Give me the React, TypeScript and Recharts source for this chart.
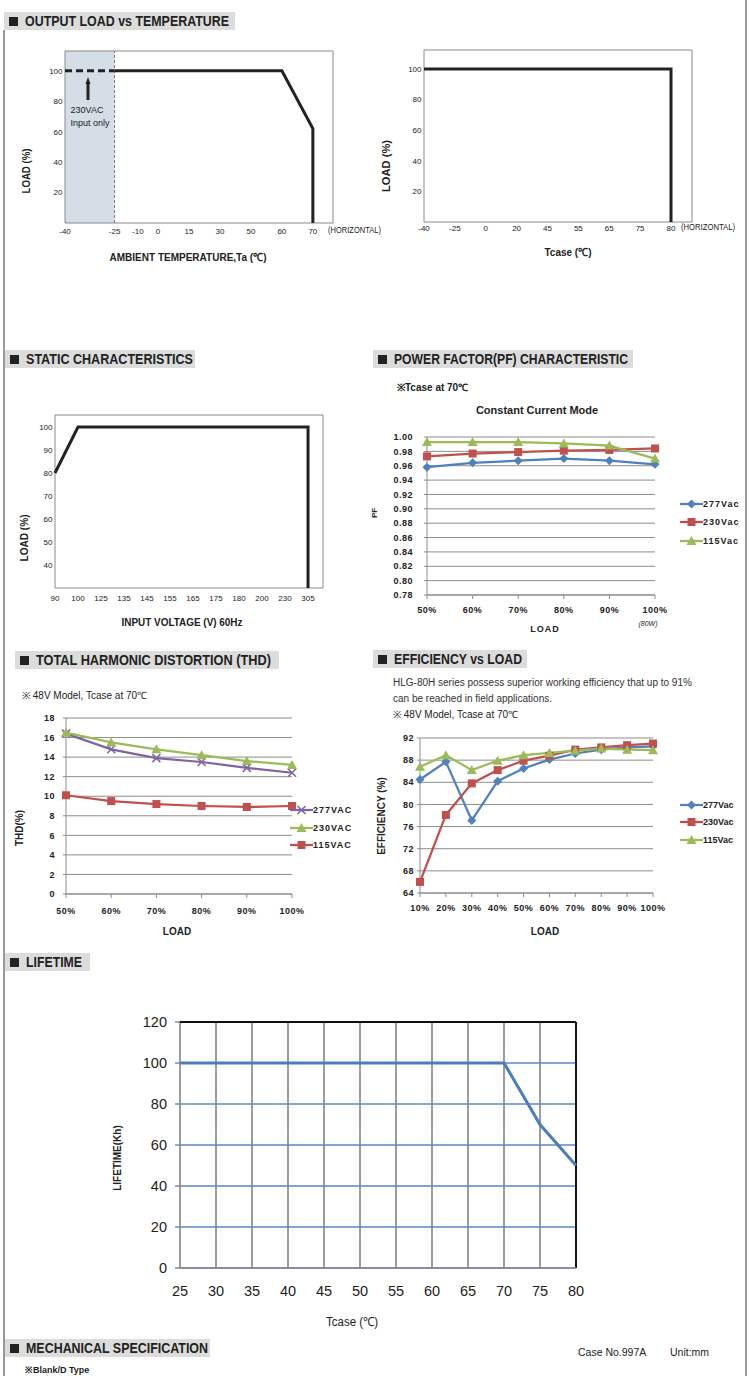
import React from "react";
import {
  LineChart,
  Line,
  XAxis,
  YAxis,
  CartesianGrid,
  ReferenceArea,
  ReferenceLine,
} from "recharts";

const SANS = "'Liberation Sans', Arial, Helvetica, sans-serif";
const INK = "#222";
const BLUE = "#4f81bd";
const RED = "#c0504d";
const GREEN = "#9bbb59";
const PURPLE = "#8064a2";
const GRID = "#8c8c8c";

// ---------- OUTPUT LOAD vs TEMPERATURE (ambient) ----------
const taTicks = [-40, -25, -10, 0, 15, 30, 50, 60, 70];
// the printed axis is not to scale: where each label sits, in label-widths
const taSlots = [0, 1.6, 2.35, 3, 4, 5, 6, 7, 8];
const taLoadT = [-25, 60, 70, 70];
const taLoadV = [100, 100, 62, 0];
const ta230T = [-40, -25];
const ta230V = [100, 100];
const loadTicks = [20, 40, 60, 80, 100];

// ---------- OUTPUT LOAD vs Tcase ----------
const tcTicks = [-40, -25, 0, 20, 45, 55, 65, 75, 80];
const tcSlots = [0, 1, 2, 3, 4, 5, 6, 7, 8];
const tcLoadT = [-40, 80, 80];
const tcLoadV = [100, 100, 0];

// ---------- STATIC CHARACTERISTICS ----------
const vinTicks = [90, 100, 125, 135, 145, 155, 165, 175, 180, 200, 230, 305];
const vinSlots = [0, 1, 2, 3, 4, 5, 6, 7, 8, 9, 10, 11];
const vinV = [90, 100, 305, 305];
const vinLoad = [80, 100, 100, 30];
const staticTicks = [40, 50, 60, 70, 80, 90, 100];

// ---------- POWER FACTOR ----------
const pfLoads = ["50%", "60%", "70%", "80%", "90%", "100%"];
const pf277 = [0.958, 0.964, 0.967, 0.97, 0.967, 0.962];
const pf230 = [0.973, 0.977, 0.979, 0.981, 0.982, 0.984];
const pf115 = [0.993, 0.993, 0.993, 0.991, 0.988, 0.97];
const pfTicks = [0.78, 0.8, 0.82, 0.84, 0.86, 0.88, 0.9, 0.92, 0.94, 0.96, 0.98, 1.0];
const pfNames = ["277Vac", "230Vac", "115Vac"];

// ---------- THD ----------
const thdLoads = ["50%", "60%", "70%", "80%", "90%", "100%"];
const thd277 = [16.4, 14.8, 13.9, 13.5, 12.9, 12.4];
const thd230 = [16.5, 15.5, 14.8, 14.2, 13.6, 13.2];
const thd115 = [10.1, 9.5, 9.2, 9.0, 8.9, 9.0];
const thdTicks = [0, 2, 4, 6, 8, 10, 12, 14, 16, 18];
const thdNames = ["277VAC", "230VAC", "115VAC"];

// ---------- EFFICIENCY ----------
const effLoads = ["10%", "20%", "30%", "40%", "50%", "60%", "70%", "80%", "90%", "100%"];
const eff277 = [84.5, 87.7, 77.1, 84.2, 86.5, 88.1, 89.2, 89.9, 90.3, 90.5];
const eff230 = [66.0, 78.1, 83.8, 86.2, 87.9, 88.8, 89.9, 90.3, 90.7, 91.0];
const eff115 = [86.8, 88.9, 86.2, 87.9, 88.9, 89.3, 89.7, 90.1, 89.9, 89.8];
const effTicks = [64, 68, 72, 76, 80, 84, 88, 92];
const effNames = ["277Vac", "230Vac", "115Vac"];

// ---------- LIFETIME ----------
const lifeTicks = [25, 30, 35, 40, 45, 50, 55, 60, 65, 70, 75, 80];
const lifeT = [25, 70, 75, 80];
const lifeKh = [100, 100, 70, 50];
const lifeYTicks = [0, 20, 40, 60, 80, 100, 120];

// ---------- helpers ----------
const slotOf = (ticks: number[], slots: number[], v: number) => {
  for (let i = 0; i < ticks.length - 1; i++) {
    if (v <= ticks[i + 1]) {
      return slots[i] + ((v - ticks[i]) / (ticks[i + 1] - ticks[i])) * (slots[i + 1] - slots[i]);
    }
  }
  return slots[slots.length - 1];
};
const toRows = (ticks: number[], slots: number[], xs: number[], ys: number[]) =>
  xs.map((x, i) => ({ s: slotOf(ticks, slots, x), y: ys[i] }));

type Box = { l: number; t: number; r: number; b: number; yw: number; xh: number };

function frame(p: Box) {
  const m = { top: 8, right: 16, bottom: 0, left: 0 };
  return {
    pos: { position: "absolute" as const, left: p.l - p.yw, top: p.t - m.top },
    width: p.yw + (p.r - p.l) + m.right,
    height: m.top + (p.b - p.t) + p.xh,
    margin: m,
  };
}

const tickSmall = { fontSize: 8, fill: INK, fontFamily: SANS };
const tickBold = { fontSize: 9, fill: INK, fontFamily: SANS, fontWeight: 700, letterSpacing: 0.5 };
const tickLife = { fontSize: 14.5, fill: INK, fontFamily: SANS };

function Marker({ cx, cy, shape, color }: { cx?: number; cy?: number; shape: string; color: string }) {
  if (cx == null || cy == null) return null;
  if (shape === "diamond")
    return <path d={`M${cx},${cy - 4.5}L${cx + 4.5},${cy}L${cx},${cy + 4.5}L${cx - 4.5},${cy}Z`} fill={color} />;
  if (shape === "square") return <rect x={cx - 4} y={cy - 4} width={8} height={8} fill={color} />;
  if (shape === "triangle")
    return <path d={`M${cx},${cy - 5}L${cx + 5},${cy + 4}L${cx - 5},${cy + 4}Z`} fill={color} />;
  return (
    <path
      d={`M${cx - 4},${cy - 4}L${cx + 4},${cy + 4}M${cx + 4},${cy - 4}L${cx - 4},${cy + 4}`}
      stroke={color}
      strokeWidth={1.6}
    />
  );
}

const dotFor = (shape: string, color: string) => (p: any) => (
  <g key={`${shape}-${p.index}`}>
    <Marker cx={p.cx} cy={p.cy} shape={shape} color={color} />
  </g>
);

function T({
  x, y, children, size = 10, weight = 400, family = SANS, align = "center", rotate = false, color = INK, style = {},
}: any) {
  const tx = align === "center" ? "-50%" : align === "right" ? "-100%" : "0";
  return (
    <div
      style={{
        position: "absolute",
        left: x,
        top: y,
        transform: `translate(${tx}, -50%)${rotate ? " rotate(-90deg)" : ""}`,
        fontFamily: family,
        fontSize: size,
        fontWeight: weight,
        color,
        whiteSpace: "nowrap",
        lineHeight: 1,
        ...style,
      }}
    >
      {children}
    </div>
  );
}

// condensed lettering: squeeze the text into the width it has on the sheet
function Fit({ x, y, w, size, weight = 700, align = "left", rotate = false, color = INK, children }: any) {
  const h = Math.ceil(size * 1.3);
  const tx = align === "center" ? "-50%" : align === "right" ? "-100%" : "0";
  return (
    <svg
      width={w + 2}
      height={h}
      style={{
        position: "absolute",
        left: x,
        top: y,
        overflow: "visible",
        transform: `translate(${tx}, -50%)${rotate ? " rotate(-90deg)" : ""}`,
      }}
    >
      <text
        x={align === "center" ? 1 : 0}
        y={size * 0.95}
        textLength={w}
        lengthAdjust="spacingAndGlyphs"
        fontSize={size}
        fontWeight={weight}
        fontFamily={SANS}
        fill={color}
      >
        {children}
      </text>
    </svg>
  );
}

function Banner({ x, y, w, tw, text }: { x: number; y: number; w: number; tw: number; text: string }) {
  return (
    <>
      <div style={{ position: "absolute", left: x, top: y, width: w, height: 18, background: "#dcdcdc" }}>
        <div style={{ position: "absolute", left: 5, top: 4.5, width: 9, height: 9, background: INK }} />
      </div>
      <Fit x={x + 21} y={y + 9.5} w={tw} size={15}>
        {text}
      </Fit>
    </>
  );
}

function LegendRow({ x, y, color, shape, text, spacing = 1 }: any) {
  return (
    <div style={{ position: "absolute", left: x, top: y - 6, height: 12, display: "flex", alignItems: "center" }}>
      <svg width={23} height={12}>
        <line x1={0} y1={6} x2={23} y2={6} stroke={color} strokeWidth={2.25} />
        <Marker cx={11.5} cy={6} shape={shape} color={color} />
      </svg>
      <span style={{ fontFamily: SANS, fontWeight: 700, fontSize: 9, letterSpacing: spacing, color: INK }}>{text}</span>
    </div>
  );
}

function FrameChart(props: {
  box: Box;
  xTicks: number[];
  slots: number[];
  xMax: number;
  yDomain: [number, number];
  yTicks: number[];
  xGap: number;
  lines: { rows: { s: number; y: number }[]; dash?: string }[];
  shade?: number;
}) {
  const f = frame(props.box);
  const [y0, y1] = props.yDomain;
  return (
    <div style={f.pos}>
      <LineChart width={f.width} height={f.height} margin={f.margin}>
        {props.shade !== undefined && (
          <ReferenceArea x1={0} x2={props.shade} y1={y0} y2={y1} fill="#d5dde6" fillOpacity={1} stroke="none" />
        )}
        {props.shade !== undefined && <ReferenceLine x={props.shade} stroke="#777" strokeDasharray="3 2" />}
        <ReferenceArea x1={0} x2={props.xMax} y1={y0} y2={y1} fill="none" stroke="#8a8a8a" />
        <XAxis
          type="number"
          dataKey="s"
          domain={[0, props.xMax]}
          ticks={props.slots}
          interval={0}
          tickFormatter={(s: number) => String(props.xTicks[props.slots.indexOf(s)])}
          axisLine={false}
          tickLine={false}
          tickSize={0}
          tickMargin={props.xGap}
          height={props.box.xh}
          tick={tickSmall}
        />
        <YAxis
          domain={props.yDomain}
          ticks={props.yTicks}
          interval={0}
          axisLine={false}
          tickLine={false}
          tickSize={0}
          tickMargin={2.5}
          width={props.box.yw}
          tick={tickSmall}
        />
        <YAxis
          yAxisId="r"
          orientation="right"
          mirror
          domain={props.yDomain}
          ticks={props.yTicks}
          tick={false}
          tickSize={4}
          axisLine={false}
          tickLine={{ stroke: "#777" }}
        />
        {props.lines.map((ln, i) => (
          <Line
            key={i}
            data={ln.rows}
            dataKey="y"
            stroke={INK}
            strokeWidth={3}
            strokeDasharray={ln.dash}
            dot={false}
            isAnimationActive={false}
          />
        ))}
      </LineChart>
    </div>
  );
}

function ExcelChart(props: {
  box: Box;
  cats: string[];
  series: { values: number[]; color: string; shape: string }[];
  yDomain: [number, number];
  yTicks: number[];
  fmt?: (v: number) => string;
  xGap: number;
  yGap: number;
}) {
  const f = frame(props.box);
  const rows = props.cats.map((load, i) => {
    const row: any = { load };
    props.series.forEach((s, k) => (row[`s${k}`] = s.values[i]));
    return row;
  });
  return (
    <div style={f.pos}>
      <LineChart width={f.width} height={f.height} margin={f.margin} data={rows}>
        <CartesianGrid vertical={false} stroke={GRID} />
        <XAxis
          dataKey="load"
          interval={0}
          tick={tickBold}
          tickSize={4}
          tickMargin={props.xGap}
          axisLine={{ stroke: GRID }}
          tickLine={{ stroke: GRID }}
          height={props.box.xh}
        />
        <YAxis
          domain={props.yDomain}
          ticks={props.yTicks}
          interval={0}
          tickFormatter={props.fmt}
          tick={tickBold}
          tickSize={3}
          tickMargin={props.yGap}
          axisLine={{ stroke: GRID }}
          tickLine={{ stroke: GRID }}
          width={props.box.yw}
        />
        {props.series.map((s, k) => (
          <Line
            key={k}
            dataKey={`s${k}`}
            stroke={s.color}
            strokeWidth={2.25}
            dot={dotFor(s.shape, s.color)}
            isAnimationActive={false}
          />
        ))}
      </LineChart>
    </div>
  );
}

function LifetimeChart() {
  const box: Box = { l: 180, t: 1022, r: 576, b: 1268, yw: 50, xh: 40 };
  const f = frame(box);
  const rows = lifeT.map((t, i) => ({ t, kh: lifeKh[i] }));
  return (
    <div style={f.pos}>
      <LineChart width={f.width} height={f.height} margin={f.margin} data={rows}>
        <CartesianGrid horizontal={false} stroke="#858585" strokeWidth={1.6} />
        <CartesianGrid vertical={false} stroke="#5b87c2" strokeWidth={1.6} />
        <XAxis
          type="number"
          dataKey="t"
          domain={[25, 80]}
          ticks={lifeTicks}
          interval={0}
          tick={tickLife}
          tickSize={0}
          tickMargin={18}
          axisLine={{ stroke: "#888", strokeWidth: 1.6 }}
          tickLine={false}
          height={box.xh}
        />
        <YAxis
          domain={[0, 120]}
          ticks={lifeYTicks}
          interval={0}
          tick={tickLife}
          tickSize={5}
          tickMargin={8}
          axisLine={false}
          tickLine={{ stroke: "#888", strokeWidth: 1.5 }}
          width={box.yw}
        />
        <ReferenceLine y={120} stroke="#111" strokeWidth={2} />
        <ReferenceLine x={80} stroke="#111" strokeWidth={2} />
        <Line dataKey="kh" stroke="#4a7ebb" strokeWidth={3} dot={false} isAnimationActive={false} />
      </LineChart>
    </div>
  );
}

export default function App() {
  const pfSeries = [
    { values: pf277, color: BLUE, shape: "diamond" },
    { values: pf230, color: RED, shape: "square" },
    { values: pf115, color: GREEN, shape: "triangle" },
  ];
  const thdSeries = [
    { values: thd277, color: PURPLE, shape: "x" },
    { values: thd230, color: GREEN, shape: "triangle" },
    { values: thd115, color: RED, shape: "square" },
  ];
  const effSeries = [
    { values: eff277, color: BLUE, shape: "diamond" },
    { values: eff230, color: RED, shape: "square" },
    { values: eff115, color: GREEN, shape: "triangle" },
  ];

  return (
    <div
      style={{
        position: "absolute",
        left: 0,
        top: 0,
        width: 750,
        height: 1376,
        overflow: "hidden",
        background: "#fff",
        fontFamily: SANS,
      }}
    >
      {/* page borders */}
      <div style={{ position: "absolute", left: 3, top: 30, width: 1.5, height: 1346, background: "#9a9a9a" }} />
      <div style={{ position: "absolute", left: 745, top: 0, width: 1.5, height: 1376, background: "#9a9a9a" }} />

      {/* ===== OUTPUT LOAD vs TEMPERATURE ===== */}
      <Banner x={4} y={12} w={231} tw={204} text="OUTPUT LOAD vs TEMPERATURE" />
      <FrameChart
        box={{ l: 65, t: 51, r: 333, b: 223, yw: 30, xh: 22 }}
        xTicks={taTicks}
        slots={taSlots}
        xMax={8.65}
        yDomain={[0, 113]}
        yTicks={loadTicks}
        xGap={5}
        shade={slotOf(taTicks, taSlots, -25)}
        lines={[
          { rows: toRows(taTicks, taSlots, ta230T, ta230V), dash: "7 4" },
          { rows: toRows(taTicks, taSlots, taLoadT, taLoadV) },
        ]}
      />
      <svg style={{ position: "absolute", left: 83, top: 77 }} width={10} height={26}>
        <path d="M5,5 L5,23" stroke={INK} strokeWidth={3} />
        <path d="M5,0 L7.5,7 L2.5,7 Z" fill={INK} />
      </svg>
      <T x={87} y={110} size={9}>230VAC</T>
      <T x={90} y={123} size={9}>Input only</T>
      <Fit x={27} y={171} w={45} size={11} align="center" rotate>LOAD (%)</Fit>
      <Fit x={188} y={258} w={157} size={11} align="center">AMBIENT TEMPERATURE,Ta (℃)</Fit>
      <Fit x={328} y={231} w={53} size={8.5} weight={400}>(HORIZONTAL)</Fit>

      {/* ===== Tcase ===== */}
      <FrameChart
        box={{ l: 424, t: 50, r: 692, b: 222, yw: 30, xh: 22 }}
        xTicks={tcTicks}
        slots={tcSlots}
        xMax={8.68}
        yDomain={[0, 112.4]}
        yTicks={loadTicks}
        xGap={3}
        lines={[{ rows: toRows(tcTicks, tcSlots, tcLoadT, tcLoadV) }]}
      />
      <Fit x={387} y={166} w={52} size={11} align="center" rotate>LOAD (%)</Fit>
      <Fit x={568} y={253} w={47} size={11} align="center">Tcase (℃)</Fit>
      <Fit x={681} y={228} w={54} size={8.5} weight={400}>(HORIZONTAL)</Fit>

      {/* ===== STATIC CHARACTERISTICS ===== */}
      <Banner x={5} y={350} w={190} tw={167} text="STATIC CHARACTERISTICS" />
      <FrameChart
        box={{ l: 55, t: 415, r: 323, b: 588, yw: 30, xh: 22 }}
        xTicks={vinTicks}
        slots={vinSlots}
        xMax={11.65}
        yDomain={[30, 105.2]}
        yTicks={staticTicks}
        xGap={7}
        lines={[{ rows: toRows(vinTicks, vinSlots, vinV, vinLoad) }]}
      />
      <Fit x={25} y={538} w={47} size={11} align="center" rotate>LOAD (%)</Fit>
      <Fit x={182} y={623} w={121} size={11} align="center">INPUT VOLTAGE (V) 60Hz</Fit>

      {/* ===== POWER FACTOR ===== */}
      <Banner x={373} y={350} w={260} tw={234} text="POWER FACTOR(PF) CHARACTERISTIC" />
      <T x={397} y={388} size={10} weight={700} align="left">※Tcase at 70℃</T>
      <T x={537} y={410} size={11} weight={700}>Constant Current Mode</T>
      <ExcelChart
        box={{ l: 427, t: 437, r: 655, b: 595, yw: 45, xh: 25 }}
        cats={pfLoads}
        series={pfSeries}
        yDomain={[0.78, 1.0]}
        yTicks={pfTicks}
        fmt={(v) => v.toFixed(2)}
        xGap={8}
        yGap={11}
      />
      <T x={375} y={513} rotate size={8} weight={700}>PF</T>
      <T x={545} y={629} size={9} weight={700} style={{ letterSpacing: 1 }}>LOAD</T>
      <T x={648} y={623} size={7} style={{ fontStyle: "italic" }}>(80W)</T>
      {pfNames.map((n, i) => (
        <LegendRow key={n} x={680} y={[504, 522, 541][i]} color={pfSeries[i].color} shape={pfSeries[i].shape} text={n} />
      ))}

      {/* ===== THD ===== */}
      <Banner x={15} y={651} w={264} tw={235} text="TOTAL HARMONIC DISTORTION (THD)" />
      <T x={22} y={696} size={10} align="left">※ 48V Model, Tcase at 70℃</T>
      <ExcelChart
        box={{ l: 66, t: 718, r: 292, b: 894, yw: 40, xh: 28 }}
        cats={thdLoads}
        series={thdSeries}
        yDomain={[0, 18]}
        yTicks={thdTicks}
        xGap={10}
        yGap={8}
      />
      <T x={20} y={828} rotate size={10} weight={700}>THD(%)</T>
      <T x={177} y={932} size={10} weight={700}>LOAD</T>
      {thdNames.map((n, i) => (
        <LegendRow key={n} x={290} y={[810, 828, 845][i]} color={thdSeries[i].color} shape={thdSeries[i].shape} text={n} />
      ))}

      {/* ===== EFFICIENCY ===== */}
      <Banner x={373} y={650} w={154} tw={128} text="EFFICIENCY vs LOAD" />
      <T x={393} y={683} size={10} align="left" color="#333">
        HLG-80H series possess superior working efficiency that up to 91%
      </T>
      <T x={393} y={699} size={10} align="left" color="#333">can be reached in field applications.</T>
      <T x={393} y={715} size={10} align="left">※ 48V Model, Tcase at 70℃</T>
      <ExcelChart
        box={{ l: 420, t: 738, r: 653, b: 893, yw: 40, xh: 25 }}
        cats={effLoads}
        series={effSeries}
        yDomain={[64, 92]}
        yTicks={effTicks}
        xGap={8}
        yGap={3}
      />
      <T x={382} y={816} rotate size={10} weight={700}>EFFICIENCY (%)</T>
      <T x={545} y={932} size={10} weight={700}>LOAD</T>
      {effNames.map((n, i) => (
        <LegendRow
          key={n}
          x={680}
          y={[805, 822, 840][i]}
          color={effSeries[i].color}
          shape={effSeries[i].shape}
          text={n}
          spacing={0}
        />
      ))}

      {/* ===== LIFETIME ===== */}
      <Banner x={5} y={953} w={85} tw={56} text="LIFETIME" />
      <LifetimeChart />
      <T x={118} y={1158} rotate size={10} weight={700}>LIFETIME(Kh)</T>
      <Fit x={352} y={1323} w={52} size={12.5} weight={400} align="center">Tcase (℃)</Fit>

      {/* ===== MECHANICAL ===== */}
      <Banner x={5} y={1339} w={205} tw={182} text="MECHANICAL SPECIFICATION" />
      <T x={578} y={1352} size={10.5} align="left">Case No.997A</T>
      <T x={670} y={1352} size={10.5} align="left">Unit:mm</T>
      <T x={25} y={1370} size={9} weight={700} align="left">※Blank/D Type</T>
    </div>
  );
}
